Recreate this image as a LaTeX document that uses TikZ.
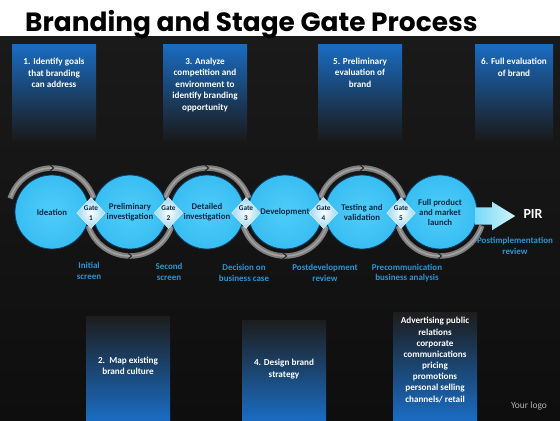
\documentclass[tikz,border=0pt]{standalone}
\usepackage{fontspec}
\setmainfont{Carlito}
\newfontfamily\titlefont{Poppins}
\usetikzlibrary{shapes.geometric,shapes.arrows}
\definecolor{bgtop}{HTML}{1A1A1A}
\definecolor{bgmid}{HTML}{242424}
\definecolor{bgbot}{HTML}{0E0E0E}
\definecolor{boxblue}{HTML}{1A6CC2}
\definecolor{ballc0}{HTML}{4FCDF8}
\definecolor{ballc1}{HTML}{36BBF2}
\definecolor{ballc2}{HTML}{1F98DC}
\definecolor{ballc3}{HTML}{146EB0}
\definecolor{ballin}{HTML}{55D0F8}
\definecolor{navy}{HTML}{0B2A48}
\definecolor{lbl}{HTML}{2A94D4}
\definecolor{arcgray}{HTML}{7E7E7E}
\definecolor{arclight}{HTML}{A2A2A2}
\definecolor{gateout}{HTML}{9DD7F3}
\pgfdeclareradialshading{ballshade}{\pgfpoint{0bp}{0bp}}{color(0bp)=(ballc0); color(28bp)=(ballc1); color(44bp)=(ballc2); color(50bp)=(ballc3)}
\tikzset{
  boxtext/.style={text=white, align=center, inner sep=0pt, font=\fontsize{9.2}{11.4}\selectfont\bfseries},
  ball/.style={circle, minimum size=74bp, inner sep=0pt, shading=ballshade,
    draw=ballc3!60!black, line width=0.8bp, text=navy, align=center, font=\fontsize{8.8}{10}\selectfont\bfseries},
  gate/.style={diamond, minimum width=28bp, minimum height=31bp, inner sep=0pt, shading=radial, inner color=white,
    outer color=gateout, draw=white!70!gateout, line width=0.5bp, text=navy, align=center, font=\fontsize{7.3}{9.5}\selectfont\bfseries},
  lbltext/.style={text=lbl, align=center, inner sep=0pt, font=\fontsize{9}{10.5}\selectfont\bfseries},
  ringarc/.style={draw=arcgray, line width=5.5bp},
  ringhi/.style={draw=arclight, line width=1.6bp},
  chev/.style={draw=black!85, line width=1.1bp}
}
\begin{document}
\begin{tikzpicture}[x=1bp,y=-1bp]
\useasboundingbox (0,0) rectangle (560,420);
% background
\fill[white] (0,0) rectangle (560,36);
\shade[top color=bgtop, middle color=bgmid, bottom color=bgbot] (0,36) rectangle (560,420);
\node[anchor=base west, inner sep=0pt, font=\titlefont\bfseries\fontsize{26.5}{30}\selectfont] (title) at (25,31) {Branding and Stage Gate Process};
% top boxes
\foreach \xa/\xb in {12/96, 163/247, 318/402, 475/553}{
  \shade[top color=boxblue, middle color=boxblue!60!bgtop, bottom color=bgtop] (\xa,44) rectangle (\xb,140);
}
\node[boxtext, anchor=north] (t1) at (54,58) {1. Identify goals\\that branding\\can address};
\node[boxtext, anchor=north] (t3) at (205,58) {3. Analyze\\competition and\\environment to\\identify branding\\opportunity};
\node[boxtext, anchor=north] (t5) at (360,58) {5. Preliminary\\evaluation of\\brand};
\node[boxtext, anchor=north] (t6) at (514,58) {6. Full evaluation\\of brand};
% bottom boxes
\shade[top color=bgmid!80!black, middle color=boxblue!55!black, bottom color=boxblue] (86,316) rectangle (170,420);
\shade[top color=bgmid!80!black, middle color=boxblue!55!black, bottom color=boxblue] (242,320) rectangle (326,420);
\shade[top color=bgmid!80!black, middle color=boxblue!55!black, bottom color=boxblue] (393,312) rectangle (477,420);
\node[boxtext] (t2) at (128,366) {2.\ \ Map existing\\brand culture};
\node[boxtext] (t4) at (284,369) {4. Design brand\\strategy};
\node[boxtext, font=\fontsize{9.2}{11.2}\selectfont\bfseries] (t7) at (435,360) {Advertising public\\relations\\corporate\\communications\\pricing\\promotions\\personal selling\\channels/ retail};
% coordinates of stages
\coordinate (c1) at (52,212);
\coordinate (c2) at (130,212);
\coordinate (c3) at (207,212);
\coordinate (c4) at (285,212);
\coordinate (c5) at (362,212);
\coordinate (c6) at (440,212);
% ring arcs (top for 1,3,5; bottom for 2,4,6)
\foreach \c in {c1,c3,c5}{
  \draw[ringarc] (\c) ++(-162:44) arc[start angle=-162, end angle=-18, radius=44];
  \draw[ringhi] (\c) ++(-160:44) arc[start angle=-160, end angle=-20, radius=44];
  \draw[chev] ([shift={(-2.5,-47.5)}]\c) -- ([shift={(1.5,-44)}]\c) -- ([shift={(-2.5,-40.5)}]\c);
}
\foreach \c in {c2,c4,c6}{
  \draw[ringarc] (\c) ++(162:44) arc[start angle=162, end angle=18, radius=44];
  \draw[ringhi] (\c) ++(160:44) arc[start angle=160, end angle=20, radius=44];
  \draw[chev] ([shift={(-2.5,40.5)}]\c) -- ([shift={(1.5,44)}]\c) -- ([shift={(-2.5,47.5)}]\c);
}
% stages
\node[ball] (s1) at (c1) {Ideation};
\node[ball] (s2) at (c2) {Preliminary\\investigation};
\node[ball] (s3) at (c3) {Detailed\\investigation};
\node[ball] (s4) at (c4) {Development};
\node[ball] (s5) at (c5) {Testing and\\validation};
\node[ball] (s6) at (c6) {Full product\\and market\\launch};
% gates
\node[gate] (g1) at (91,213) {Gate\\1};
\node[gate] (g2) at (168.5,213) {Gate\\2};
\node[gate] (g3) at (246,213) {Gate\\3};
\node[gate] (g4) at (323.5,213) {Gate\\4};
\node[gate] (g5) at (401,213) {Gate\\5};
% final arrow and PIR
\node[single arrow, anchor=tail, minimum height=40bp, minimum width=28bp, inner xsep=0pt, inner ysep=8.5bp,
  single arrow head extend=5.5bp, single arrow tip angle=63, left color=ballin!80!white, right color=ballin!25!white] (arr) at (475,216) {};
\node[text=white, inner sep=0pt, font=\fontsize{14}{15}\selectfont\bfseries] (pir) at (533,214) {PIR};
\node[lbltext] (pirl) at (515,246) {Postimplementation\\review};
% gate labels
\node[lbltext] (l1) at (89,271) {Initial\\screen};
\node[lbltext] (l2) at (169,272) {Second\\screen};
\node[lbltext] (l3) at (244,273) {Decision on\\business case};
\node[lbltext] (l4) at (325,273) {Postdevelopment\\review};
\node[lbltext] (l5) at (407,273) {Precommunication\\business analysis};
% logo
\node[text=black!30, inner sep=0pt, font=\fontsize{9.5}{11}\selectfont] (logo) at (529,406) {Your logo};
\end{tikzpicture}
\end{document}
